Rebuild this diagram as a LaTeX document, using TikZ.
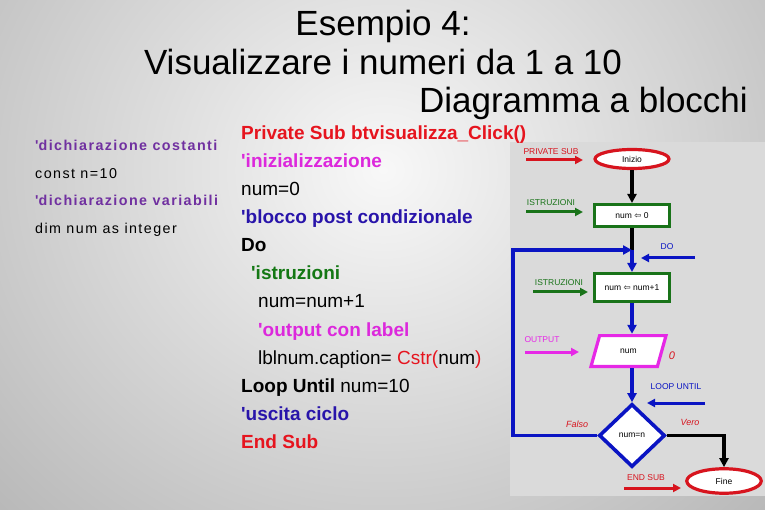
\documentclass[tikz,border=0pt]{standalone}
\usepackage{fontspec}
\setmainfont{Liberation Sans}
\newfontfamily\symfont{DejaVu Sans}
\usetikzlibrary{shapes.geometric,arrows.meta,calc}
\definecolor{bgin}{RGB}{248,248,248}
\definecolor{bgout}{RGB}{118,118,118}
\definecolor{panel}{RGB}{218,218,218}
\definecolor{declpurple}{RGB}{112,48,160}
\definecolor{codered}{RGB}{230,20,30}
\definecolor{codemag}{RGB}{220,40,220}
\definecolor{codeblue}{RGB}{40,20,170}
\definecolor{codegreen}{RGB}{20,120,20}
\definecolor{flred}{RGB}{215,20,30}
\definecolor{flgreen}{RGB}{25,115,25}
\definecolor{flblue}{RGB}{10,20,195}
\definecolor{flmag}{RGB}{230,40,230}
\tikzset{
  titletext/.style={font=\fontsize{35}{40}\selectfont, anchor=base, inner sep=0pt},
  declc/.style={font=\fontsize{14.3}{16}\selectfont\bfseries\addfontfeatures{LetterSpace=10}, text=declpurple, anchor=base west, inner sep=0pt},
  decls/.style={font=\fontsize{14.3}{16}\selectfont\addfontfeatures{LetterSpace=10}, anchor=base west, inner sep=0pt},
  code/.style={font=\fontsize{19}{22}\selectfont, anchor=base west, inner sep=0pt},
  flw/.style={line width=3.6pt},
  tipA/.style={-{Triangle[length=9pt,width=9pt]}},
  flsmall/.style={font=\fontsize{8.5}{10}\selectfont},
  flbox/.style={draw=flgreen, line width=3.2pt, fill=white, minimum width=75.5pt, inner sep=0pt, flsmall},
  flterm/.style={ellipse, draw=flred, line width=3.2pt, fill=white, inner sep=0pt, flsmall},
  fllab/.style={flsmall, inner sep=0pt},
  labarrow/.style={line width=3pt, -{Triangle[length=8pt,width=8pt]}},
}
\begin{document}
\begin{tikzpicture}[x=1pt,y=-1pt]
\useasboundingbox (0,0) rectangle (765,510);
\begin{scope}
\clip (0,0) rectangle (765,510);
\shade[inner color=bgin, outer color=bgout] (-717,-830) rectangle (1483,1170);
\end{scope}
% title
\node[titletext] (t1) at (383,36) {Esempio 4:};
\node[titletext] (t2) at (383,75) {Visualizzare i numeri da 1 a 10};
\node[titletext, anchor=base east] (t3) at (748,113) {Diagramma a blocchi};
% declarations
\node[declc] (d1) at (35,151) {\textquotesingle dichiarazione costanti};
\node[decls] (d2) at (35,179) {const n=10};
\node[declc] (d3) at (35,206) {\textquotesingle dichiarazione variabili};
\node[decls] (d4) at (35,234) {dim num as integer};
% flowchart panel
\fill[panel] (510,142) rectangle (765,496);
% code
\node[code, text=codered] (c1) at (241,140) {\bfseries Private Sub btvisualizza\_Click()};
\node[code, text=codemag] (c2) at (241,168) {\bfseries \textquotesingle inizializzazione};
\node[code] (c3) at (241,196) {num=0};
\node[code, text=codeblue] (c4) at (241,224) {\bfseries \textquotesingle blocco post condizionale};
\node[code] (c5) at (241,252) {\bfseries Do};
\node[code, text=codegreen] (c6) at (251,280) {\bfseries \textquotesingle istruzioni};
\node[code] (c7) at (258,308) {num=num+1};
\node[code, text=codemag] (c8) at (258,336) {\bfseries \textquotesingle output con label};
\node[code] (c9) at (258,364) {lblnum.caption= \textcolor{codered}{Cstr(}num\textcolor{codered}{)}};
\node[code] (c10) at (241,392) {\textbf{Loop Until} num=10};
\node[code, text=codeblue] (c11) at (241,420) {\bfseries \textquotesingle uscita ciclo};
\node[code, text=codered] (c12) at (241,448) {\bfseries End Sub};
% flowchart shapes
\node[flterm, minimum width=74pt, minimum height=19pt] (inizio) at (632,159) {Inizio};
\node[flbox, minimum height=21.8pt] (r1) at (632,215.5) {num {\symfont ⇦} 0};
\coordinate (jdo) at (632,250);
\coordinate (lc) at (513,250);
\node[flbox, minimum height=27.8pt] (r2) at (632,287.5) {num {\symfont ⇦} num+1};
\filldraw[fill=white, draw=flmag, line width=3.2pt] (599.6,335.6) -- (666,335.6) -- (657.4,366.4) -- (591,366.4) -- cycle;
\node[minimum width=60pt, minimum height=34pt, inner sep=0pt, flsmall] (para) at (628.5,351) {num};
\node[diamond, draw=flblue, line width=3.6pt, fill=white, minimum width=66pt, minimum height=63pt, inner sep=0pt, flsmall] (dia) at (632,435.5) {num=n};
\node[flterm, minimum width=74.5pt, minimum height=24.5pt] (fine) at (724,481) {Fine};
% flowchart connectors
\draw[flw, tipA] (inizio) -- (r1);
\draw[flw] (r1) -- (jdo);
\draw[flw, flblue, tipA] (jdo) -- (r2);
\draw[flw, flblue, tipA] (r2) -- (para.north -| r2.south);
\draw[flw, flblue, tipA] (para.south -| dia.north) -- (dia);
\draw[flw, flblue, tipA] (dia.west) -| (lc) -- (jdo);
\draw[flw, tipA] (dia.east) -| (fine.north);
% label arrows
\coordinate (pa1) at (526,160); \coordinate (pa2) at (583,160);
\draw[labarrow, flred] (pa1) -- (pa2);
\node[fllab, text=flred] (lpriv) at (551,152) {PRIVATE SUB};
\coordinate (ia1) at (526,212); \coordinate (ia2) at (583,212);
\draw[labarrow, flgreen] (ia1) -- (ia2);
\node[fllab, text=flgreen] (list1) at (551,203) {ISTRUZIONI};
\coordinate (da1) at (695,258); \coordinate (da2) at (641,258);
\draw[labarrow, flblue] (da1) -- (da2);
\node[fllab, text=flblue] (ldo) at (667,247) {DO};
\coordinate (ib1) at (533,292); \coordinate (ib2) at (588,292);
\draw[labarrow, flgreen] (ib1) -- (ib2);
\node[fllab, text=flgreen] (list2) at (559,283) {ISTRUZIONI};
\coordinate (oa1) at (525,352); \coordinate (oa2) at (579,352);
\draw[labarrow, flmag] (oa1) -- (oa2);
\node[fllab, text=flmag] (lout) at (542,340) {OUTPUT};
\node[fllab, text=flred, font=\fontsize{11}{12}\selectfont\itshape] (lzero) at (672,356) {0};
\coordinate (la1) at (705,403); \coordinate (la2) at (647,403);
\draw[labarrow, flblue] (la1) -- (la2);
\node[fllab, text=flblue] (lloop) at (676,387) {LOOP UNTIL};
\node[fllab, text=flred, font=\fontsize{9}{10}\selectfont\itshape] (lfalso) at (577,424) {Falso};
\node[fllab, text=flred, font=\fontsize{9}{10}\selectfont\itshape] (lvero) at (690,422) {Vero};
\coordinate (ea1) at (624,488); \coordinate (ea2) at (681,488);
\draw[labarrow, flred] (ea1) -- (ea2);
\node[fllab, text=flred] (lend) at (646,478) {END SUB};
\end{tikzpicture}
\end{document}
